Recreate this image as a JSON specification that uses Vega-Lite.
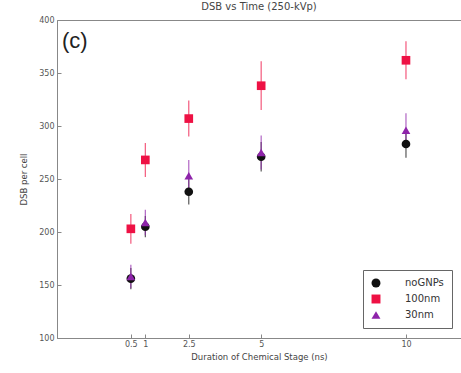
{
  "$schema": "https://vega.github.io/schema/vega-lite/v6.json",
  "width": 404,
  "height": 318,
  "autosize": {"type": "none"},
  "padding": {"left": 57, "top": 20, "right": 0, "bottom": 35},
  "background": "white",
  "title": {"text": "DSB vs Time (250-kVp)", "fontSize": 10, "font": "DejaVu Sans", "fontWeight": "normal", "color": "#444", "offset": 4},
  "config": {
    "view": {"stroke": "#888", "strokeWidth": 1},
    "axis": {"grid": false, "labelFont": "DejaVu Sans", "titleFont": "DejaVu Sans", "labelFontSize": 8, "titleFontSize": 8.5, "labelColor": "#555", "titleColor": "#444", "titleFontWeight": "normal", "domainColor": "#888", "tickColor": "#888"}
  },
  "data": {"values": [
    {"t": 0.5, "group": "noGNPs", "dsb": 156, "lo": 146, "hi": 166},
    {"t": 1, "group": "noGNPs", "dsb": 205, "lo": 195, "hi": 215},
    {"t": 2.5, "group": "noGNPs", "dsb": 238, "lo": 226, "hi": 250},
    {"t": 5, "group": "noGNPs", "dsb": 271, "lo": 257, "hi": 285},
    {"t": 10, "group": "noGNPs", "dsb": 283, "lo": 270, "hi": 296},
    {"t": 0.5, "group": "100nm", "dsb": 203, "lo": 189, "hi": 217},
    {"t": 1, "group": "100nm", "dsb": 268, "lo": 252, "hi": 284},
    {"t": 2.5, "group": "100nm", "dsb": 307, "lo": 290, "hi": 324},
    {"t": 5, "group": "100nm", "dsb": 338, "lo": 315, "hi": 361},
    {"t": 10, "group": "100nm", "dsb": 362, "lo": 344, "hi": 380},
    {"t": 0.5, "group": "30nm", "dsb": 158, "lo": 147, "hi": 169},
    {"t": 1, "group": "30nm", "dsb": 209, "lo": 197, "hi": 221},
    {"t": 2.5, "group": "30nm", "dsb": 253, "lo": 238, "hi": 268},
    {"t": 5, "group": "30nm", "dsb": 275, "lo": 259, "hi": 291},
    {"t": 10, "group": "30nm", "dsb": 296, "lo": 280, "hi": 312}
  ]},
  "layer": [
    {
      "mark": {"type": "rule", "strokeWidth": 1.2, "opacity": 0.7},
      "encoding": {
        "x": {"field": "t", "type": "quantitative"},
        "y": {"field": "lo", "type": "quantitative"},
        "y2": {"field": "hi"},
        "color": {"field": "group", "type": "nominal"}
      }
    },
    {
      "mark": {"type": "point", "filled": true, "opacity": 1},
      "encoding": {
        "x": {"field": "t", "type": "quantitative", "title": "Duration of Chemical Stage (ns)", "scale": {"domain": [-2.05, 11.9], "nice": false, "zero": false}, "axis": {"values": [0.5, 1, 2.5, 5, 10], "labelExpr": "datum.value", "tickSize": -4, "labelPadding": 6, "titlePadding": 4, "labelFlush": false}},
        "y": {"field": "dsb", "type": "quantitative", "title": "DSB per cell", "scale": {"domain": [100, 400], "nice": false, "zero": false}, "axis": {"values": [100, 150, 200, 250, 300, 350, 400], "tickSize": -4, "labelPadding": 7, "titlePadding": 10}},
        "color": {"field": "group", "type": "nominal", "scale": {"domain": ["noGNPs", "100nm", "30nm"], "range": ["#111111", "#ee1144", "#8e24aa"]}, "legend": {"title": null, "orient": "none", "legendX": 306, "legendY": 250, "strokeColor": "#666", "fillColor": "white", "cornerRadius": 0, "padding": 8, "labelFont": "DejaVu Sans", "labelFontSize": 10, "labelColor": "#333", "labelOffset": 24, "symbolSize": 80, "symbolOpacity": 1, "rowPadding": 6, "symbolStrokeWidth": 0, "labelLimit": 200, "encode": {"symbols": {"update": {"opacity": {"value": 1}, "fillOpacity": {"value": 1}}}}}},
        "shape": {"field": "group", "type": "nominal", "scale": {"domain": ["noGNPs", "100nm", "30nm"], "range": ["circle", "square", "triangle-up"]}},
        "size": {"value": 75}
      }
    },
    {
      "data": {"values": [{"label": "(c)"}]},
      "mark": {"type": "text", "align": "left", "baseline": "alphabetic", "fontSize": 22, "font": "Liberation Sans", "fontWeight": "normal", "color": "#222"},
      "encoding": {
        "text": {"field": "label"},
        "x": {"datum": -1.88},
        "y": {"datum": 374}
      }
    }
  ]
}
